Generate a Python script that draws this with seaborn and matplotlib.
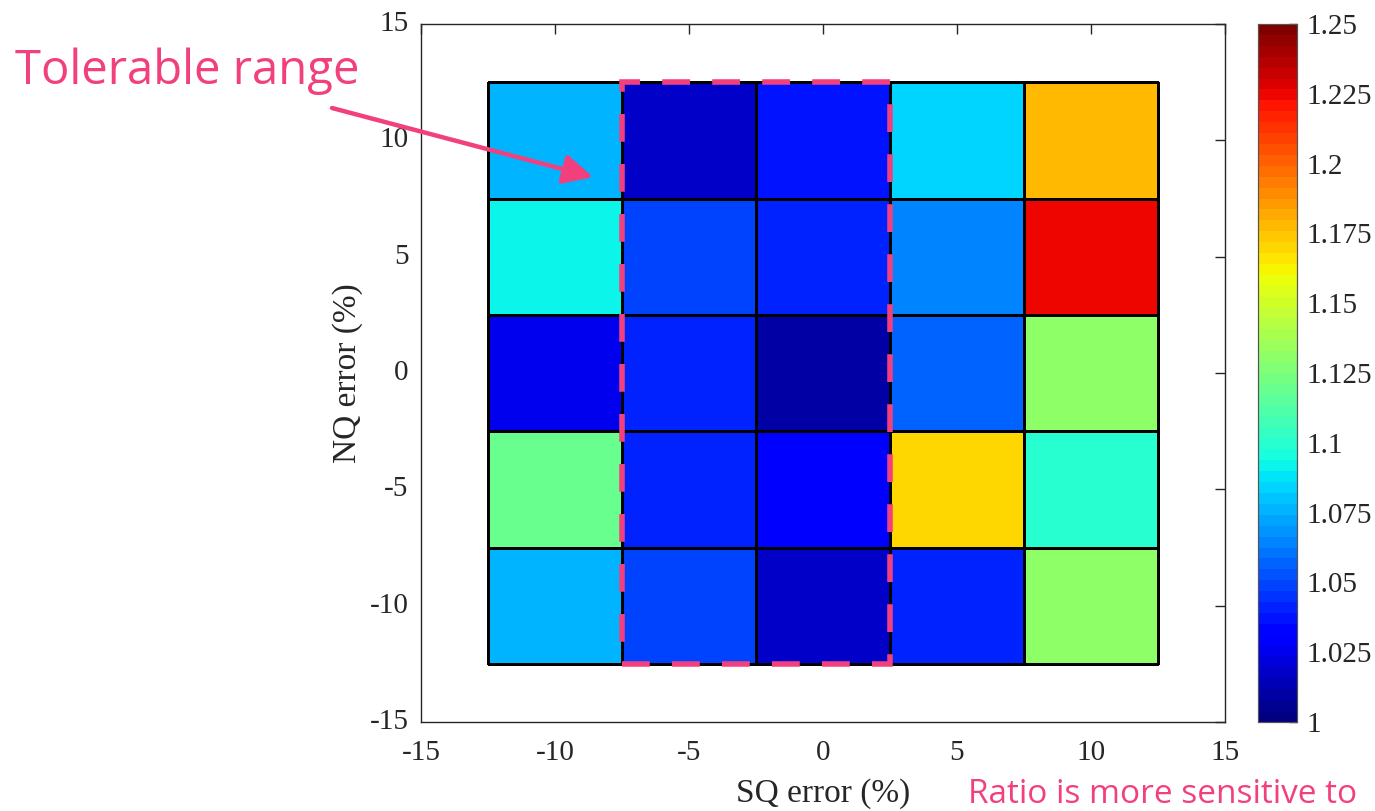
import numpy as np
import pandas as pd
import matplotlib
matplotlib.use("Agg")
import matplotlib.pyplot as plt
import matplotlib.transforms as mtransforms
from matplotlib.patches import Rectangle
import seaborn as sns

# Grid of perturbations (percent) and resulting ratio
sq_error = [-10, -5, 0, 5, 10]
nq_error = [10, 5, 0, -5, -10]
ratio_nq_p10 = [1.075, 1.017, 1.039, 1.084, 1.178]
ratio_nq_p5 = [1.090, 1.049, 1.040, 1.066, 1.2245]
ratio_nq_0 = [1.026, 1.040, 1.009, 1.057, 1.131]
ratio_nq_m5 = [1.121, 1.041, 1.030, 1.169, 1.099]
ratio_nq_m10 = [1.075, 1.049, 1.019, 1.040, 1.131]

tolerable_sq = [-5, 0]
axis_ticks = [-15, -10, -5, 0, 5, 10, 15]
cbar_ticks = [1, 1.025, 1.05, 1.075, 1.1, 1.125, 1.15, 1.175, 1.2, 1.225, 1.25]

PINK = "#F2407F"
INK = "#262626"

sns.set_theme(style="white")
plt.rcParams["font.family"] = ["Liberation Serif", "DejaVu Serif"]

fig = plt.figure(figsize=(13.75, 8.11), dpi=100)
ax = fig.add_axes([0.3062, 0.1097, 0.5847, 0.8607])
cax = fig.add_axes([0.9149, 0.1097, 0.0284, 0.8607])

df = pd.DataFrame(
    [ratio_nq_p10, ratio_nq_p5, ratio_nq_0, ratio_nq_m5, ratio_nq_m10],
    index=nq_error, columns=sq_error,
)
cmap = plt.get_cmap("jet", 64)
sns.heatmap(df, ax=ax, cbar_ax=cax, cmap=cmap, vmin=1, vmax=1.25,
            linewidths=0.9, linecolor="black")

# Place the cell mesh in percent coordinates (cell centres on the grid values)
step = sq_error[1] - sq_error[0]
x0 = sq_error[0] - step / 2
y0 = nq_error[0] + step / 2
mesh = ax.collections[0]
mesh.set_transform(mtransforms.Affine2D().scale(step, -step).translate(x0, y0) + ax.transData)

ax.set_xlim(axis_ticks[0], axis_ticks[-1])
ax.set_ylim(axis_ticks[0], axis_ticks[-1])
ax.set_xticks(axis_ticks)
ax.set_yticks(axis_ticks)
ax.set_xticklabels([f"{t:g}" for t in axis_ticks], rotation=0)
ax.set_yticklabels([f"{t:g}" for t in axis_ticks], rotation=0, va="center")
for s in ax.spines.values():
    s.set_visible(True)
    s.set_color(INK)
    s.set_linewidth(1.0)
ax.tick_params(axis="both", direction="in", length=7, width=1, color=INK,
               labelcolor=INK, labelsize=21, top=True, right=True,
               labeltop=False, labelright=False)
ax.tick_params(axis="x", pad=13)
ax.tick_params(axis="y", pad=9)
ax.set_xlabel("SQ error (%)", fontsize=24, color=INK, labelpad=9)
ax.set_ylabel("NQ error (%)", fontsize=24, color=INK, labelpad=5)

# Colorbar styling
cax.set_yticks(cbar_ticks)
cax.set_yticklabels([f"{t:g}" for t in cbar_ticks])
cax.tick_params(axis="y", direction="in", length=6, width=1, color=INK,
                labelcolor=INK, labelsize=21, pad=7, right=True, left=False)
for s in cax.spines.values():
    s.set_visible(True)
    s.set_color("#555555")
    s.set_linewidth(0.8)

# Tolerable range: dashed outline around the selected SQ columns
rx = tolerable_sq[0] - step / 2
rw = tolerable_sq[-1] - tolerable_sq[0] + step
ry = min(nq_error) - step / 2
rh = max(nq_error) - min(nq_error) + step
ax.add_patch(Rectangle((rx, ry), rw, rh, fill=False, edgecolor=PINK,
                       linewidth=4.0, linestyle=(0, (5.0, 4.0)),
                       zorder=5, clip_on=False))

ax.annotate("", xy=(-8.58, 8.42), xycoords="data",
            xytext=(332 / 1375, 1 - 108 / 811), textcoords="figure fraction",
            arrowprops=dict(arrowstyle="-|>,head_length=0.6,head_width=0.3",
                            color=PINK, lw=3.2, mutation_scale=30,
                            shrinkA=0, shrinkB=0),
            zorder=6, annotation_clip=False)

fig.text(15 / 1375, 1 - 84 / 811, "Tolerable range", fontsize=34,
         color=PINK, family=["Open Sans", "DejaVu Sans"], va="baseline")
fig.text(968 / 1375, 1 - 803 / 811, "Ratio is more sensitive to",
         fontsize=24, color=PINK, family=["Open Sans", "DejaVu Sans"],
         va="baseline")

fig.savefig("out.png", dpi=100)
